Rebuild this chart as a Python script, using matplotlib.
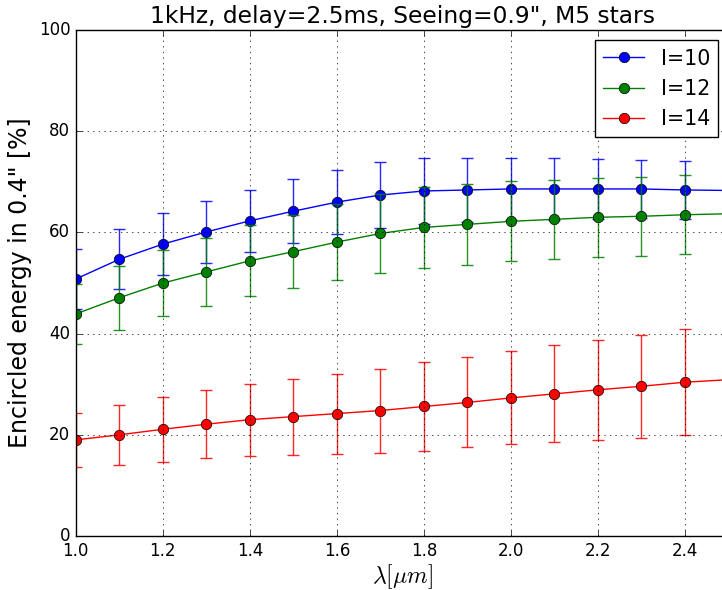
import matplotlib
matplotlib.use("Agg")
import matplotlib.pyplot as plt
import numpy as np

# --- DATA ---
wavelength = [1.0, 1.1, 1.2, 1.3, 1.4, 1.5, 1.6, 1.7, 1.8, 1.9, 2.0, 2.1, 2.2, 2.3, 2.4, 2.5]

ee_i10 = [50.8, 54.7, 57.7, 60.1, 62.3, 64.2, 66.0, 67.4, 68.2, 68.4, 68.6, 68.6, 68.6, 68.6, 68.4, 68.3]
err_i10 = [5.9, 5.9, 6.1, 6.1, 6.1, 6.3, 6.4, 6.6, 6.6, 6.4, 6.2, 6.1, 5.9, 5.8, 5.8, 5.8]

ee_i12 = [43.9, 47.1, 50.0, 52.2, 54.4, 56.2, 58.1, 59.8, 61.0, 61.6, 62.2, 62.6, 63.0, 63.2, 63.5, 63.7]
err_i12 = [6.0, 6.3, 6.6, 6.8, 7.0, 7.2, 7.5, 7.9, 8.0, 8.0, 7.9, 7.8, 7.8, 7.8, 7.8, 7.8]

ee_i14 = [19.0, 20.0, 21.1, 22.1, 23.0, 23.6, 24.2, 24.8, 25.6, 26.4, 27.3, 28.1, 28.9, 29.6, 30.4, 30.9]
err_i14 = [5.3, 5.9, 6.4, 6.7, 7.1, 7.5, 7.9, 8.3, 8.7, 8.9, 9.2, 9.6, 9.9, 10.2, 10.5, 10.8]

labels = ["I=10", "I=12", "I=14"]
colors = ["blue", "green", "red"]

plt.style.use('classic')
fig = plt.figure(figsize=(7.22, 5.90), facecolor='white')
# axes runs slightly past the right edge of the figure, as in the reference
ax = fig.add_axes([0.105, 0.0915, 0.904, 0.8575])

series = [(ee_i10, err_i10), (ee_i12, err_i12), (ee_i14, err_i14)]
for (vals, errs), lab, col in zip(series, labels, colors):
    ax.errorbar(wavelength, vals, yerr=errs, fmt='none', ecolor=col,
                elinewidth=1, capsize=4, capthick=1, alpha=0.85)
    ax.plot(wavelength, vals, 'o-', color=col, markersize=7.5,
            markeredgecolor='black', linewidth=1, label=lab)

ax.set_xlim(1.0, 2.5)
ax.set_ylim(0, 100)
ax.set_xticks([1.0, 1.2, 1.4, 1.6, 1.8, 2.0, 2.2, 2.4])
ax.set_yticks([0, 20, 40, 60, 80, 100])
ax.tick_params(labelsize=12)
ax.grid(True, linestyle=':', color='black')

ax.set_title("1kHz, delay=2.5ms, Seeing=0.9\", M5 stars", fontsize=16.8)
ax.set_xlabel(r"$\lambda [\mu m]$", fontsize=17, labelpad=2)
ax.set_ylabel("Encircled energy in 0.4\" [%]", fontsize=17)

ax.legend(loc='upper right', numpoints=1, fontsize=14.8, fancybox=False)

fig.savefig("out.png", dpi=100, facecolor='white')
